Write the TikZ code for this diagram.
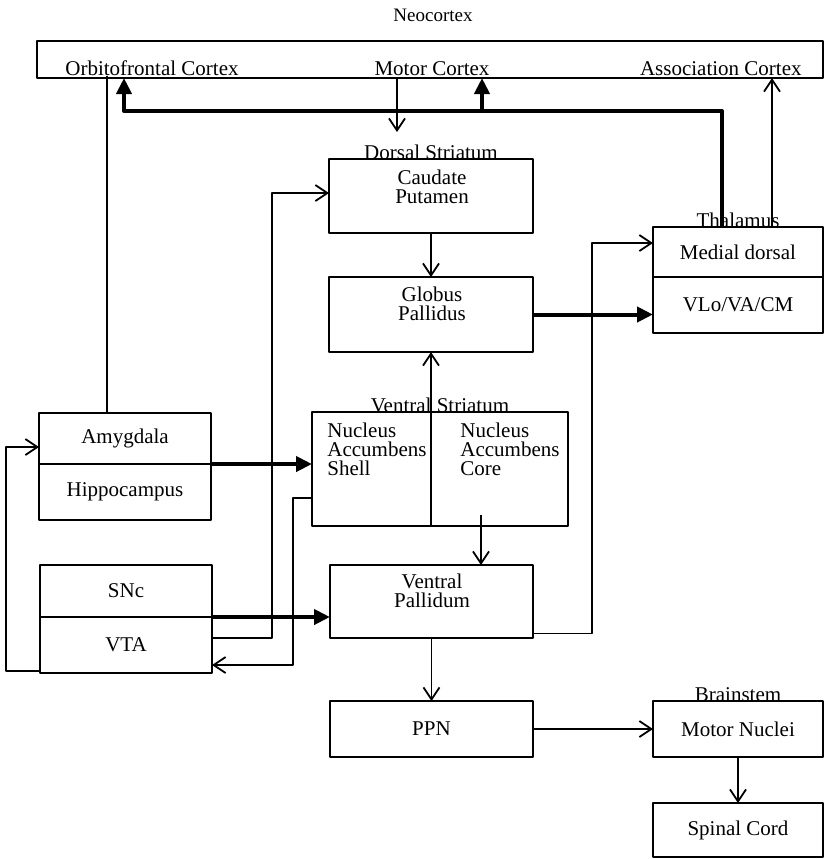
\documentclass[tikz,border=0pt]{standalone}
\usepackage{fontspec}
\setmainfont{Liberation Serif}
\usetikzlibrary{arrows.meta,fit,calc}

\begin{document}
\begin{tikzpicture}[x=0.5pt,y=-0.5pt,line join=round,
	>={Straight Barb[length=6pt,width=8pt]},
	font=\fontsize{10.5}{9.5}\selectfont,
	region/.style={draw,line width=0.9pt,inner sep=0pt,outer sep=0pt},
	cell/.style 2 args={region,minimum width=#1,minimum height=#2},
	lbl/.style={inner sep=0pt,align=center},
	link/.style={line width=0.9pt,->},
	drive/.style={line width=2pt,-{Triangle[length=8pt,width=7.5pt]}}]
	\useasboundingbox (0,0) rectangle (825,859);
	% bends of the connectors
	\path (124,111) coordinate (retL)
	(482,111) coordinate (retM)
	(722,111) coordinate (retR)
	(397,132) coordinate (mdown)
	(772,0) coordinate (assoc)
	(107,0) coordinate (amyup)
	(481,515) coordinate (coreout)
	;
	% neocortex
	\node[font=\fontsize{9.5}{11}\selectfont] (neolbl) at (433,15) {Neocortex};
	\node[region,fit={(37,41) (823,78)}] (neo) {};
	\node[lbl,anchor=base west] (ofc) at (65,75) {Orbitofrontal Cortex};
	\node[lbl,anchor=base] (mc) at (432,75) {Motor Cortex};
	\node[lbl,anchor=base east] (ac) at (802,75) {Association Cortex};
	% striatum and pallidum
	\node[region,fit={(329,159) (533,233)}] (dorsal) {};
	\node[lbl,anchor=base] (dslbl) at (dorsal.north) {Dorsal Striatum};
	\node[lbl] (cp) at (432,187) {Caudate\\Putamen};
	\node[region,fit={(329,277) (533,352)}] (gp) {};
	\node[lbl] (gptxt) at (432,304) {Globus\\Pallidus};
	\node[region,fit={(312,412) (431,526)}] (shell) {};
	\node[region,fit={(431,412) (568,526)}] (core) {};
	\node[lbl,anchor=base] (vslbl) at ($(shell.north west)!0.5!(core.north east)$) {Ventral Striatum};
	\node[lbl,anchor=west,align=left] (shelltxt) at (327,449) {Nucleus\\Accumbens\\Shell};
	\node[lbl,anchor=west,align=left] (coretxt) at (460,449) {Nucleus\\Accumbens\\Core};
	\node[region,fit={(330,565) (533,638)}] (vp) {};
	\node[lbl] (vptxt) at (432,591) {Ventral\\Pallidum};
	\node[cell={101.5pt}{28pt}] (ppn) at (431.5,729) {PPN};
	% thalamus and brainstem
	\node[cell={85pt}{25pt}] (md) at (738,252) {Medial dorsal};
	\node[cell={85pt}{28pt}] (vlo) at (738,305) {VLo/VA/CM};
	\node[lbl,anchor=base] (thallbl) at (md.north) {Thalamus};
	\node[cell={85pt}{28pt}] (mn) at (738,729) {Motor Nuclei};
	\node[lbl,anchor=base] (bslbl) at (mn.north) {Brainstem};
	\node[cell={85pt}{27pt}] (spinal) at (738,830) {Spinal Cord};
	% limbic and midbrain
	\node[cell={86pt}{25.5pt}] (amy) at (125,438.5) {Amygdala};
	\node[cell={86pt}{28pt}] (hip) at (125,492) {Hippocampus};
	\node[cell={86pt}{26pt}] (snc) at (126,591) {SNc};
	\node[cell={86pt}{28pt}] (vta) at (126,645) {VTA};

	% cortical returns
	\draw[drive] (retR |- md.north) -- (retR) -- (retL) -- (retL |- neo.south);
	\draw[drive] (retM) -- (retM |- neo.south);
	\draw[link] (mdown |- neo.south) -- (mdown);
	\draw[link] (assoc |- md.north) -- (assoc |- neo.south);
	\draw[line width=0.9pt] (amyup |- amy.north) -- (amyup |- ofc.south);
	% basal ganglia
	\draw[link] (dorsal.south) -- (gp.north);
	\draw[link] (shell.north east) -- (shell.north east |- gp.south);
	\draw[drive] (gp.east) -- (gp.east -| vlo.west);
	\draw[link] (coreout) -- (coreout |- vp.north);
	\draw[link] ([yshift=-16pt]vp.east) -- ++(29.5pt,0) |- ([yshift=4.5pt]md.west);
	\draw[link] (vp.south) -- (ppn.north);
	\draw[link] (ppn.east) -- (ppn.east -| mn.west);
	\draw[link] (mn.south) -- (spinal.north);
	% limbic and dopamine inputs
	\draw[drive] (amy.south east) -- (amy.south east -| shell.west);
	\draw[drive] (snc.south east) -- (snc.south east -| vp.west);
	\draw[link] ([yshift=3.5pt]vta.east) -- ++(30pt,0) |- ([yshift=1.5pt]dorsal.west);
	\draw[link] ([yshift=-14.5pt]shell.west) -- ++(-9.5pt,0) |- ([yshift=-10pt]vta.east);
	\draw[link] ([yshift=1pt]vta.south west) -- ++(-17pt,0) |- ([yshift=-4.25pt]amy.west);
\end{tikzpicture}
\end{document}
